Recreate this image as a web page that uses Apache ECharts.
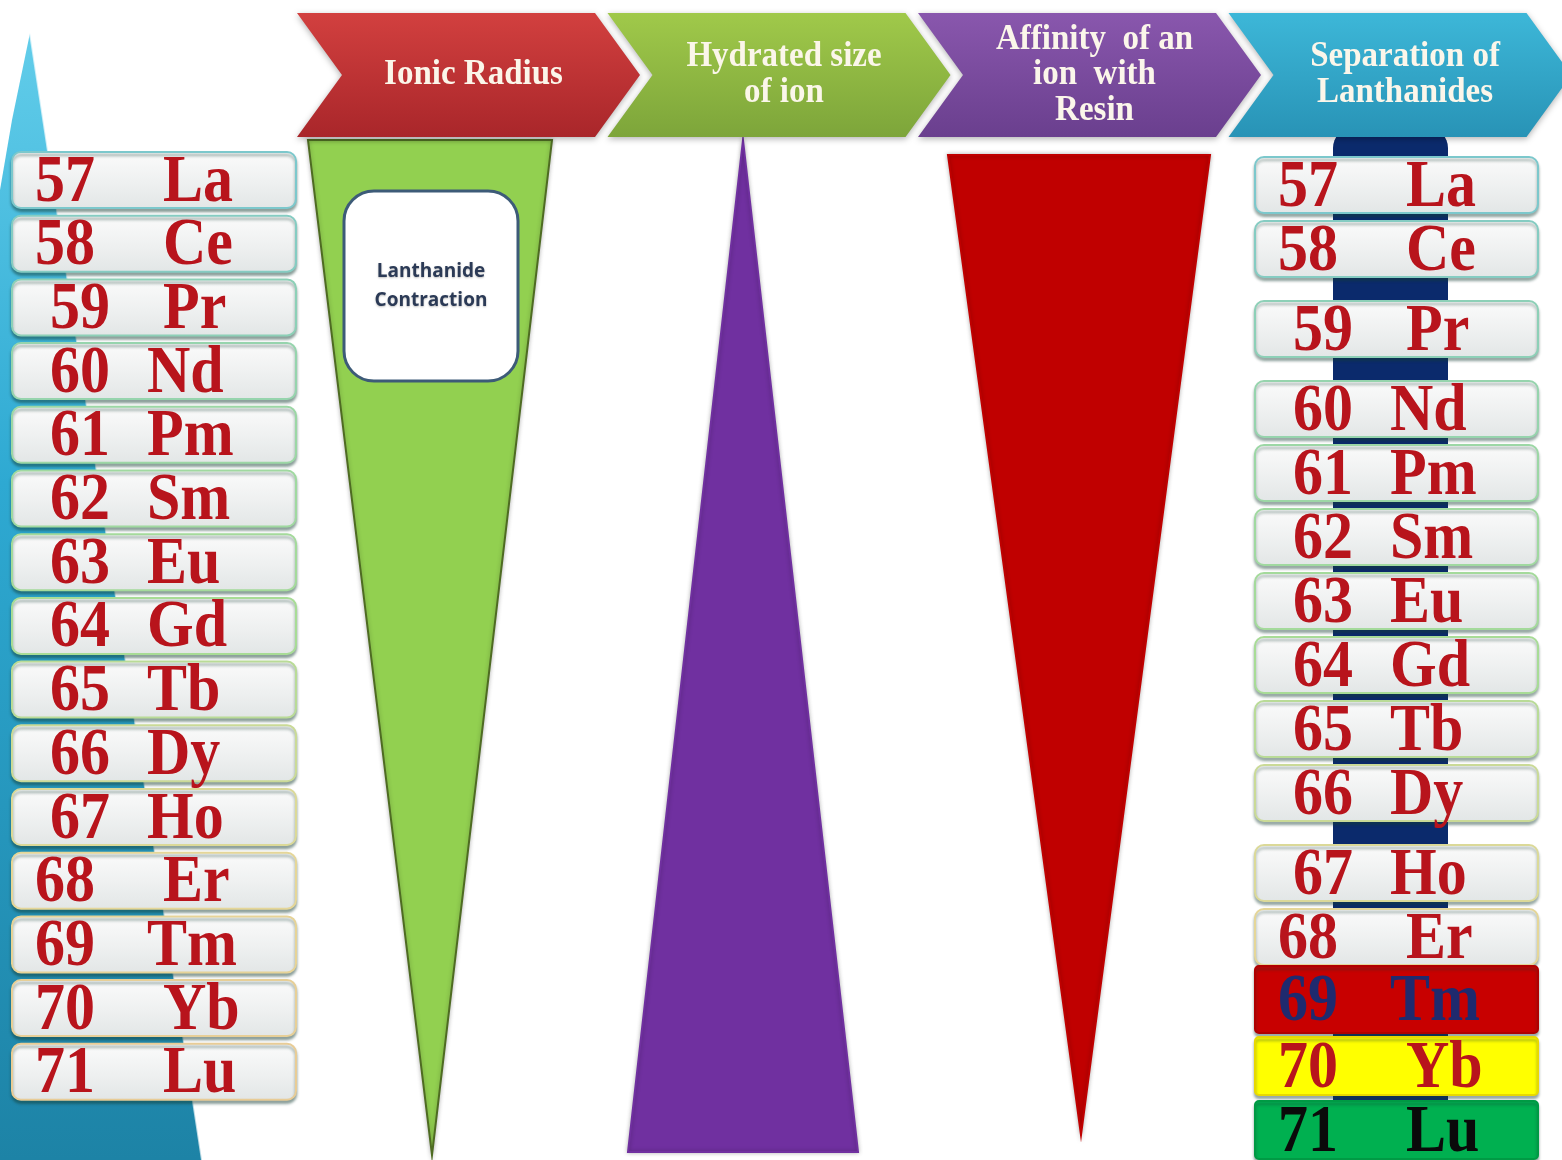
<!DOCTYPE html>
<html>
<head>
<meta charset="utf-8">
<script src="https://cdn.jsdelivr.net/npm/echarts@6/dist/echarts.min.js"></script>
<style>
html,body{margin:0;padding:0;background:#ffffff;}
#chart{width:1562px;height:1160px;}
</style>
</head>
<body>
<div id="chart"></div>
<script>
// ---------- DATA ----------
const atomicNumbers = [57, 58, 59, 60, 61, 62, 63, 64, 65, 66, 67, 68, 69, 70, 71];
const elementSymbols = ['La', 'Ce', 'Pr', 'Nd', 'Pm', 'Sm', 'Eu', 'Gd', 'Tb', 'Dy', 'Ho', 'Er', 'Tm', 'Yb', 'Lu'];
const stepLabels = ['Ionic Radius', 'Hydrated size\nof ion', 'Affinity  of an\nion  with\nResin', 'Separation of\nLanthanides'];
const trendDirections = ['decrease', 'increase', 'decrease'];
const trendNote = 'Lanthanide\nContraction';
const separatedFirst = ['Tm', 'Yb', 'Lu'];

// ---------- STYLE / LAYOUT (code only) ----------
const W = 1562, H = 1160;
const SERIF = '"Liberation Serif", "Times New Roman", serif';
const TXT_RED = '#b8141c';
const chevronColors = [
  ['#d2403f', '#a9262a'],
  ['#a0c94a', '#7da53a'],
  ['#8957ad', '#6a3f8e'],
  ['#3db7d8', '#2893b6']
];
const trendStyles = [
  { cx: 430, top: 140, bottom: 1155, half: 122, fill: '#92d050', stroke: '#4e6b22' },
  { cx: 743, top: 140, bottom: 1152, half: 115, fill: '#7030a0', stroke: '#7030a0' },
  { cx: 1079, top: 155, bottom: 1135, half: 131, fill: '#c00000', stroke: '#c00000' }
];
const highlightStyles = {
  Tm: { fill: '#c80000', text: '#1f2a6e', border: '#b00000' },
  Yb: { fill: '#ffff00', text: '#b8141c', border: '#e8d800' },
  Lu: { fill: '#00b050', text: '#0a0a0a', border: '#009a44' }
};

function boxFill() {
  return new echarts.graphic.LinearGradient(0, 0, 0, 1, [
    { offset: 0, color: '#fbfbfb' },
    { offset: 0.55, color: '#eef0f0' },
    { offset: 1, color: '#e2e6e6' }
  ]);
}
function rowBorder(i, n) {
  return echarts.color.lerp(i / (n - 1), ['#7cc8cc', '#9ad6a8', '#a8dc96', '#e4d898', '#e8cc96']);
}
function isWide(i) { return i <= 1 || i >= 11; }
function isMid(i) { return (i >= 3 && i <= 10) || i === 12; }

function tallText(text, p, font, fill, extra) {
  return Object.assign({
    type: 'text', z2: 5, x: p[0], y: p[1], scaleY: 1.13, originX: 0, originY: 0,
    style: { text: text, x: 0, y: 0, fill: fill, font: font, align: 'left', verticalAlign: 'middle' }
  }, extra || {});
}

function elementTexts(P, x0, yc, i, numColor, symColor) {
  const numX = x0 + (isWide(i) ? 23 : 38);
  const symX = x0 + (isMid(i) ? 135 : 151);
  const font = 'bold 60px ' + SERIF;
  return [
    tallText(String(atomicNumbers[i]), P(numX, yc + 3), font, numColor),
    tallText(elementSymbols[i], P(symX, yc + 3), font, symColor)
  ];
}

const chart = echarts.init(document.getElementById('chart'), null, { renderer: 'canvas' });
const idx = arr => arr.map((_, i) => [i, 0]);

const option = {
  backgroundColor: '#ffffff',
  animation: false,
  grid: { left: 0, right: 0, top: 0, bottom: 0 },
  xAxis: { type: 'value', min: 0, max: W, show: false },
  yAxis: { type: 'value', min: 0, max: H, inverse: true, show: false },
  series: [
    // left teal backdrop
    {
      type: 'custom', z: 1, data: [[0, 0]], silent: true,
      renderItem: (params, api) => {
        const P = (x, y) => api.coord([x, y]);
        return {
          type: 'group', children: [
            { type: 'polygon', shape: { points: [P(30, 33), P(202, 1160), P(0, 1160), P(0, 190), P(12, 120)] },
              style: { fill: new echarts.graphic.LinearGradient(0, 0, 0, 1, [
                { offset: 0, color: '#62cdea' }, { offset: 0.4, color: '#2ea9d2' }, { offset: 1, color: '#1d83a6' }]) } },
            { type: 'polyline', shape: { points: [P(30, 33), P(202, 1160)] },
              style: { stroke: 'rgba(255,255,255,0.7)', lineWidth: 2, fill: null } }
          ]
        };
      }
    },
    // navy separation column
    {
      type: 'custom', z: 2, data: [[0, 0]], silent: true,
      renderItem: (params, api) => {
        const a = api.coord([1333, 128]), b = api.coord([1448, 1102]);
        return { type: 'rect', shape: { x: a[0], y: a[1], width: b[0] - a[0], height: b[1] - a[1], r: [20, 20, 0, 0] },
          style: { fill: '#0b2a6c' } };
      }
    },
    // chevrons
    {
      type: 'custom', z: 3, data: idx(stepLabels), silent: true,
      renderItem: (params, api) => {
        const i = params.dataIndex;
        const P = (x, y) => api.coord([x, y]);
        const x = 297 + i * 310.5, w = 298, tip = 45, y0 = 13, y1 = 137, ym = 75;
        const c = chevronColors[i];
        const tc = P(x + (w + tip) / 2 + 5, ym);
        return {
          type: 'group', children: [
            { type: 'polygon', shape: { points: [P(x, y0), P(x + w, y0), P(x + w + tip, ym), P(x + w, y1), P(x, y1), P(x + tip, ym)] },
              style: { fill: new echarts.graphic.LinearGradient(0, 0, 0, 1, [{ offset: 0, color: c[0] }, { offset: 1, color: c[1] }]),
                shadowBlur: 6, shadowColor: 'rgba(0,0,0,0.3)', shadowOffsetY: 2 } },
            { type: 'text', x: tc[0], y: tc[1], scaleY: 1.08, originX: 0, originY: 0,
              style: { text: stepLabels[i], x: 0, y: 0, fill: '#fbf6ea',
              font: 'bold 33px ' + SERIF, lineHeight: 33, align: 'center', verticalAlign: 'middle' } }
          ]
        };
      }
    },
    // trend wedges
    {
      type: 'custom', z: 2, data: idx(trendDirections), silent: true,
      renderItem: (params, api) => {
        const i = params.dataIndex, s = trendStyles[i];
        const P = (x, y) => api.coord([x, y]);
        const pts = trendDirections[i] === 'decrease'
          ? [P(s.cx - s.half, s.top), P(s.cx + s.half, s.top), P(s.cx + 2, s.bottom)]
          : [P(s.cx, s.top), P(s.cx + s.half, s.bottom), P(s.cx - s.half, s.bottom)];
        return { type: 'polygon', shape: { points: pts },
          style: { fill: s.fill, stroke: s.stroke, lineWidth: 2, shadowBlur: 4, shadowColor: 'rgba(0,0,0,0.25)' } };
      }
    },
    // contraction note
    {
      type: 'custom', z: 4, data: [[0, 0]], silent: true,
      renderItem: (params, api) => {
        const a = api.coord([344, 191]), b = api.coord([518, 381]);
        const c = api.coord([431, 286]);
        return {
          type: 'group', children: [
            { type: 'rect', shape: { x: a[0], y: a[1], width: b[0] - a[0], height: b[1] - a[1], r: 30 },
              style: { fill: '#ffffff', stroke: '#3d5b78', lineWidth: 3 } },
            { type: 'text', style: { text: trendNote, x: c[0], y: c[1], fill: '#2b3a56',
              font: 'bold 19px "Open Sans", "Noto Sans", sans-serif', lineHeight: 29, align: 'center', verticalAlign: 'middle',
              textShadowBlur: 2, textShadowColor: 'rgba(0,0,0,0.25)', textShadowOffsetY: 1 } }
          ]
        };
      }
    },
    // left element column
    {
      type: 'custom', z: 5, data: idx(atomicNumbers), silent: true,
      renderItem: (params, api) => {
        const i = params.dataIndex, n = atomicNumbers.length;
        const P = (x, y) => api.coord([x, y]);
        const top = 152 + i * 63.7, h = 56, x0 = 12, x1 = 296;
        const a = P(x0, top), b = P(x1, top + h);
        return {
          type: 'group', children: [
            { type: 'rect', shape: { x: a[0], y: a[1], width: b[0] - a[0], height: b[1] - a[1], r: 9 },
              style: { fill: boxFill(), stroke: rowBorder(i, n), lineWidth: 2,
                shadowBlur: 3, shadowOffsetY: 3, shadowColor: 'rgba(20,60,50,0.45)' } }
          ].concat(elementTexts(P, x0, top + h / 2, i, TXT_RED, TXT_RED))
        };
      }
    },
    // right element column (separation)
    {
      type: 'custom', z: 5, data: idx(elementSymbols), silent: true,
      renderItem: (params, api) => {
        const i = params.dataIndex, n = elementSymbols.length;
        const P = (x, y) => api.coord([x, y]);
        const top = 157 + 64 * i + 16 * (i >= 2) + 16 * (i >= 3) + 16 * (i >= 10) - (i === 12 ? 7 : 0);
        const sym = elementSymbols[i];
        const hl = separatedFirst.indexOf(sym) >= 0 ? highlightStyles[sym] : null;
        const h = hl ? (i === 12 ? 67 : 58) : 56, x0 = 1255, x1 = 1538;
        const a = P(x0, top), b = P(x1, top + h);
        return {
          type: 'group', children: [
            { type: 'rect', shape: { x: a[0], y: a[1], width: b[0] - a[0], height: b[1] - a[1], r: hl ? 4 : 9 },
              style: { fill: hl ? hl.fill : boxFill(), stroke: hl ? hl.border : rowBorder(i, n), lineWidth: 2,
                shadowBlur: 3, shadowOffsetY: 3, shadowColor: 'rgba(20,60,50,0.4)' } }
          ].concat(elementTexts(P, x0, top + h / 2, i, hl ? hl.text : TXT_RED, hl ? hl.text : TXT_RED))
        };
      }
    }
  ]
};
chart.setOption(option);
</script>
</body>
</html>
